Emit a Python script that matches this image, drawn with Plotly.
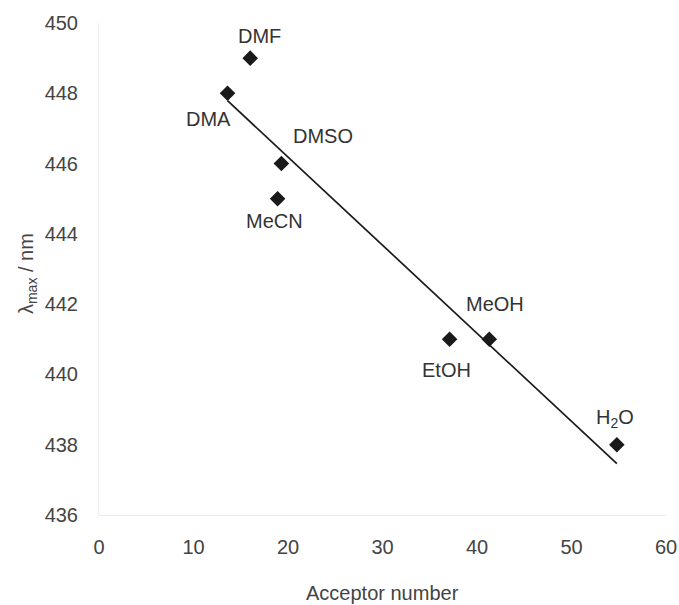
import numpy as np
import plotly.graph_objects as go

solvents = ["DMA", "DMF", "DMSO", "MeCN", "EtOH", "MeOH", "H<sub>2</sub>O"]
acceptor_number = [13.6, 16.0, 19.3, 18.9, 37.1, 41.3, 54.8]
lambda_max = [448, 449, 446, 445, 441, 441, 438]
x_ticks = [0, 10, 20, 30, 40, 50, 60]
y_ticks = [436, 438, 440, 442, 444, 446, 448, 450]
x_title = "Acceptor number"
y_title = "λ<sub>max</sub> / nm"

# label offsets in pixels (x, y-up)
label_shift = {
    "DMA": (-19, -26),
    "DMF": (9, 22),
    "DMSO": (42, 28),
    "MeCN": (-3, -22),
    "EtOH": (-3, -31),
    "MeOH": (6, 35),
    "H<sub>2</sub>O": (-2, 26),
}

slope, intercept = np.polyfit(acceptor_number, lambda_max, 1)
fit_x = [min(acceptor_number), max(acceptor_number)]
fit_y = [slope * v + intercept for v in fit_x]

FONT = "Liberation Sans, Arial, sans-serif"

fig = go.Figure()
fig.add_trace(go.Scatter(x=fit_x, y=fit_y, mode="lines",
                         line=dict(color="#1a1a1a", width=1.7), showlegend=False))
fig.add_trace(go.Scatter(x=acceptor_number, y=lambda_max, mode="markers",
                         marker=dict(symbol="diamond", size=12, color="#1a1a1a"),
                         showlegend=False))

for s, xv, yv in zip(solvents, acceptor_number, lambda_max):
    dx, dy = label_shift[s]
    fig.add_annotation(x=xv, y=yv, text=s, showarrow=False, xshift=dx, yshift=dy,
                       font=dict(family=FONT, size=20, color="#333333"))

axis_font = dict(family=FONT, size=20, color="#444444")

# axis titles
fig.add_annotation(x=0.5, y=-0.158, xref="paper", yref="paper", text=x_title,
                   showarrow=False, xanchor="center", yanchor="middle", font=axis_font)
fig.add_annotation(x=-0.125, y=0.49, xref="paper", yref="paper", text=y_title,
                   showarrow=False, textangle=-90, xanchor="center", yanchor="middle",
                   font=axis_font)

fig.update_layout(
    width=679, height=605,
    margin=dict(l=99, r=13, t=23, b=90),
    plot_bgcolor="white", paper_bgcolor="white",
    xaxis=dict(range=[0, 60], tickvals=x_ticks, showgrid=False, zeroline=False,
               showline=True, linecolor="#ececec", linewidth=1, automargin=False,
               tickfont=axis_font, ticks="", ticklabelstandoff=14),
    yaxis=dict(range=[436, 450], tickvals=y_ticks, showgrid=False, zeroline=False,
               showline=True, linecolor="#ececec", linewidth=1, automargin=False,
               tickfont=axis_font, ticks="", ticklabelstandoff=16),
)

fig.write_html("out.html")
